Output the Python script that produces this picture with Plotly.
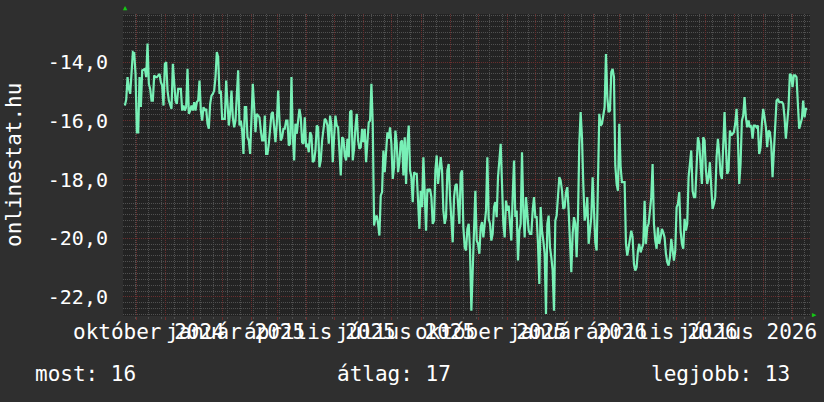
import pandas as pd
import plotly.graph_objects as go

# ---- data ----
values_part1 = [
    -15.48, -15.28, -14.51, -14.91, -15.08, -14.40, -13.66, -13.69, -14.40, -16.39,
    -16.39, -14.51, -15.53, -14.28, -14.26, -14.23, -14.51, -13.37, -14.74, -14.91,
    -15.31, -15.31, -14.45, -14.51, -14.51, -14.45, -14.40, -14.68, -14.80, -15.48,
    -14.06, -14.00, -14.97, -15.31, -15.48, -15.59, -14.06, -14.85, -15.31, -15.42,
    -14.91, -14.91, -14.91, -15.65, -15.48, -15.65, -15.53, -14.23, -15.76, -15.65,
    -15.48, -15.65, -15.36, -15.65, -15.36, -15.31, -14.63, -15.65, -15.99, -15.53,
    -15.65, -15.59, -16.10, -16.27, -15.42, -15.14, -15.08, -14.97, -14.51, -13.66,
    -13.83, -15.08, -14.97, -15.93, -15.93, -15.93, -14.63, -15.53, -16.16, -15.70,
    -14.97, -15.88, -16.22, -15.99, -15.31, -14.28, -16.16, -15.99, -16.33, -17.13,
    -15.53, -15.53, -16.56, -16.67, -17.13, -15.65, -14.74, -15.53, -16.39, -15.76,
    -15.82, -15.88, -16.33, -16.67, -16.67, -15.82, -17.13, -17.13, -16.78, -16.33,
    -15.76, -15.70, -16.33, -16.73, -16.10, -14.97, -15.99, -16.67, -16.56, -16.27,
    -16.27, -15.99, -15.99, -16.84, -16.78, -14.51, -16.50, -17.35,
]
values_part2 = [
    -16.10, -16.44, -15.99, -15.59, -15.88, -16.73, -16.78, -15.88, -16.90, -16.78,
    -17.07, -16.39, -16.50, -17.41, -17.35, -17.01, -16.16, -16.22, -17.58, -17.35,
    -16.67, -16.16, -15.93, -15.99, -16.16, -16.78, -15.82, -16.16, -17.41, -16.56,
    -15.82, -16.16, -16.22, -17.01, -17.86, -16.56, -16.61, -17.18, -17.35, -16.61,
    -17.24, -15.70, -15.65, -17.35, -16.95, -16.22, -15.76, -16.67, -16.95, -16.90,
    -16.27, -16.73, -16.27, -17.41, -16.73, -16.05, -15.99, -14.74, -16.10, -19.57,
    -19.28, -19.23, -19.51, -19.91, -18.55, -18.43, -17.01, -17.75, -17.07, -16.39,
    -16.61, -16.22, -16.78, -17.98, -17.58, -16.33, -16.78, -17.75, -17.41, -16.73,
    -16.67, -17.86, -16.56, -18.15, -16.78, -16.16, -17.69, -17.92, -18.77, -17.75,
    -17.81, -17.81, -18.72, -19.68, -18.38, -18.94, -17.24, -18.77, -19.74, -18.32,
    -18.38, -18.32, -18.60, -19.51, -19.40, -17.69, -17.18, -18.15, -17.52, -17.24,
    -17.69, -19.06, -19.51, -19.28, -17.69, -17.47, -18.60, -19.51, -20.14, -18.60,
    -18.20, -18.15, -18.94, -19.51, -17.81, -17.69, -19.63, -20.31,
]
values_part3 = [
    -20.42, -19.68, -19.51, -20.42, -22.47, -20.88, -19.74, -18.38, -20.08, -20.19,
    -20.53, -19.63, -19.45, -19.97, -19.51, -19.06, -17.24, -19.34, -19.51, -20.08,
    -19.85, -18.94, -18.77, -19.28, -17.92, -17.24, -16.78, -18.15, -19.51, -19.97,
    -18.72, -19.06, -18.89, -19.51, -20.08, -18.60, -17.35, -19.28, -19.06, -20.76,
    -19.74, -19.51, -17.07, -19.06, -19.97, -18.60, -19.17, -19.74, -19.85, -19.85,
    -19.06, -18.60, -19.28, -19.28, -20.19, -21.56, -18.94, -19.74, -20.08, -20.53,
    -22.58, -19.51, -19.23, -20.31, -20.65, -21.10, -22.47, -19.40, -19.23, -18.60,
    -17.92, -18.03, -18.38, -19.00, -18.94, -18.43, -18.26, -19.06, -20.25, -21.16,
    -19.85, -19.28, -19.51, -20.65, -19.28, -16.78, -15.70, -16.56, -18.15, -19.40,
    -19.17, -18.60, -20.19, -19.63, -19.28, -17.92, -19.06, -20.14, -20.42, -18.15,
    -15.76, -16.16, -16.10, -15.82, -15.53, -13.72, -15.19, -15.70, -15.65, -14.34,
    -14.23, -14.51, -17.52, -18.15, -18.38, -16.10, -17.58, -18.09, -18.09, -18.09,
    -20.19, -20.59, -20.31, -20.08, -19.74, -19.97, -20.88,
]
values_part4 = [
    -21.10, -20.99, -20.42, -20.19, -20.48, -20.31, -20.19, -18.72, -20.19, -19.63,
    -19.51, -19.06, -18.60, -17.47, -19.51, -20.08, -20.36, -19.63, -20.19, -19.97,
    -19.68, -19.80, -19.97, -20.53, -20.82, -20.93, -20.65, -20.02, -20.42, -20.76,
    -20.42, -18.94, -18.83, -18.43, -19.74, -20.19, -20.36, -19.34, -19.74, -19.51,
    -17.92, -17.47, -17.01, -18.38, -18.60, -18.60, -17.35, -16.56, -16.78, -17.47,
    -18.15, -16.56, -16.67, -17.69, -18.15, -17.92, -17.41, -18.26, -19.00, -18.83,
    -18.60, -17.24, -16.61, -17.13, -17.81, -17.98, -17.01, -15.70, -16.90, -17.81,
    -17.69, -16.33, -16.50, -16.44, -16.39, -16.10, -15.59, -16.56, -18.15, -17.47,
    -15.99, -15.82, -15.19, -15.88, -16.22, -15.99, -16.22, -16.16, -16.61, -16.16,
    -16.16, -16.22, -16.16, -17.13, -16.90, -16.10, -15.59, -15.88, -16.22, -16.90,
    -16.33, -16.39, -16.78, -17.92, -17.01, -16.56, -15.31, -15.25, -15.36, -15.36,
    -15.36, -15.42, -15.88, -16.61, -15.99, -15.53, -14.40, -14.45, -14.85, -14.45,
    -14.45, -14.51, -15.42, -16.27, -16.10, -15.93, -15.31, -15.88, -15.59, -15.59,
]
values = values_part1 + values_part2 + values_part3 + values_part4

data_start = "2024-09-19"
data_end = "2026-09-17"
dates = pd.date_range(data_start, data_end, periods=len(values))

x_range = ["2024-09-17", "2026-09-20"]
y_range = [-22.65, -12.36]

tick_dates = ["2024-10-15", "2025-01-15", "2025-04-15", "2025-07-15",
              "2025-10-15", "2026-01-15", "2026-04-15", "2026-07-15"]
tick_labels = ["október 2024", "január 2025", "április 2025", "július 2025",
               "október 2025", "január 2026", "április 2026", "július 2026"]
y_ticks = [-22, -20, -18, -16, -14]
y_tick_labels = ["-22,0", "-20,0", "-18,0", "-16,0", "-14,0"]

y_title = "onlinestat.hu"
legend_now = "most: 16"
legend_avg = "átlag: 17"
legend_best = "legjobb: 13"

# ---- styles ----
FONT = "DejaVu Sans Mono"
TEXT = "#ffffff"
OUTER_BG = "#2f2f2f"
PLOT_BG = "#232323"
MINOR_GRID = "#505050"
MAJOR_GRID = "#6a2e2e"
LINE = "#78f0b6"
ARROW = "#13c813"

fig = go.Figure()
fig.add_trace(go.Scatter(
    x=dates, y=values, mode="lines",
    line=dict(color=LINE, width=2.2),
    hoverinfo="skip", showlegend=False,
))

fig.update_layout(
    width=824, height=402,
    margin=dict(l=123, r=14, t=14, b=86),
    paper_bgcolor=OUTER_BG,
    plot_bgcolor=PLOT_BG,
    font=dict(family=FONT, color=TEXT, size=20),
    showlegend=False,
    hovermode=False,
)

fig.update_xaxes(
    type="date", range=x_range,
    tick0="2024-10-01", dtick="M1",
    showgrid=True, gridcolor=MAJOR_GRID, griddash="1px,1px", gridwidth=1,
    showticklabels=False,
    ticks="outside", ticklen=3, tickcolor=MAJOR_GRID,
    minor=dict(tick0="2024-10-14", dtick=14 * 86400000, showgrid=True,
               gridcolor=MINOR_GRID, griddash="1px,1px", gridwidth=1,
               ticks="outside", ticklen=2, tickcolor=MINOR_GRID),
    zeroline=False, showline=False, fixedrange=True,
)
fig.update_yaxes(
    range=y_range,
    tickmode="array", tickvals=y_ticks, ticktext=y_tick_labels,
    showgrid=True, gridcolor=MAJOR_GRID, griddash="1px,1px", gridwidth=1,
    tickfont=dict(family=FONT, size=20, color=TEXT),
    ticks="", ticklabelstandoff=14,
    minor=dict(dtick=0.2, tick0=0, showgrid=True, gridcolor=MINOR_GRID,
               griddash="1px,1px", gridwidth=1),
    zeroline=False, showline=False, fixedrange=True,
)

annotations = []
for d, lab in zip(tick_dates, tick_labels):
    annotations.append(dict(
        x=d, y=-0.053, xref="x", yref="paper", text=lab, showarrow=False,
        xanchor="center", yanchor="middle",
        font=dict(family=FONT, size=21, color=TEXT),
    ))

annotations.append(dict(
    x=-0.1587, y=0.5, xref="paper", yref="paper", text=y_title, showarrow=False,
    textangle=-90, xanchor="center", yanchor="middle",
    font=dict(family=FONT, size=21, color=TEXT),
))
legend_y = -0.192
annotations.append(dict(x=-0.131, y=legend_y, xref="paper", yref="paper",
                        text=legend_now, showarrow=False, xanchor="left", yanchor="middle",
                        font=dict(family=FONT, size=21, color=TEXT)))
annotations.append(dict(x=0.3086, y=legend_y, xref="paper", yref="paper",
                        text=legend_avg, showarrow=False, xanchor="left", yanchor="middle",
                        font=dict(family=FONT, size=21, color=TEXT)))
annotations.append(dict(x=0.9738, y=legend_y, xref="paper", yref="paper",
                        text=legend_best, showarrow=False, xanchor="right", yanchor="middle",
                        font=dict(family=FONT, size=21, color=TEXT)))
# axis arrow heads
annotations.append(dict(x=0.003, y=1.0, xref="paper", yref="paper", text="▲",
                        showarrow=False, xanchor="center", yanchor="bottom",
                        font=dict(size=7, color=ARROW)))
annotations.append(dict(x=1.0, y=0.003, xref="paper", yref="paper", text="▶",
                        showarrow=False, xanchor="left", yanchor="middle",
                        font=dict(size=7, color=ARROW)))
fig.update_layout(annotations=annotations)

# remove the page's default body margin so the figure fills the window
page_script = ("document.body.style.margin='0';"
               "document.body.style.background='" + OUTER_BG + "';")
fig.write_html("out.html", post_script=page_script,
               config={"displayModeBar": False, "staticPlot": True})
